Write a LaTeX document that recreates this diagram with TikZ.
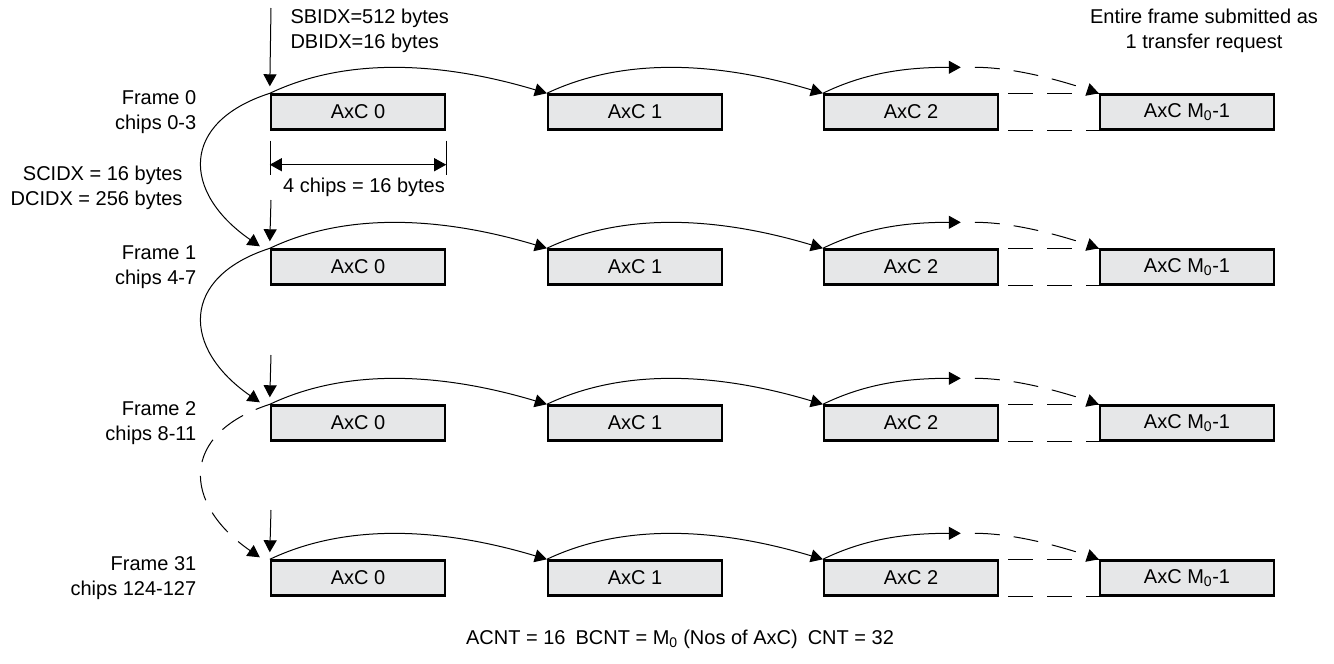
\documentclass[tikz,border=0pt]{standalone}
\usepackage{fontspec}
\setmainfont{Liberation Sans}
\usetikzlibrary{arrows.meta,positioning,calc}
\definecolor{bx}{HTML}{E6E7E8}
\tikzset{
  axc/.style={draw, line width=2.4pt, fill=bx, minimum width=174pt, minimum height=35pt, inner sep=0pt},
  hop/.style={-{Triangle[length=12pt,width=13pt]}, line width=1pt},
  gap/.style={line width=1pt, dash pattern=on 25pt off 14pt},
  lbl/.style={align=right},
}

\begin{document}
\begin{tikzpicture}[x=1pt,y=-1pt,font=\fontsize{20}{25}\selectfont]
  \useasboundingbox (0,0) rectangle (1334,664);
  % AxC blocks of the four frames
  \foreach \r/\yy in {0/112,1/267,2/423,3/578} {
    \node[axc] (b\r0) at (358,\yy) {AxC 0};
    \node[axc] (b\r1) at (635,\yy) {AxC 1};
    \node[axc] (b\r2) at (911,\yy) {AxC 2};
    \node[axc] (b\r3) at (1187,\yy) {AxC M\textsubscript{0}-1};
  }
  % links inside a frame
  \foreach \r in {0,...,3} {
    \draw[hop] (b\r0.north west) .. controls +(80,-38) and +(-100,-30) .. (b\r1.north west);
    \draw[hop] (b\r1.north west) .. controls +(80,-38) and +(-100,-30) .. (b\r2.north west);
    \coordinate (m\r) at ($(b\r2.north west)+(138,-26)$);
    \draw[hop] (b\r2.north west) .. controls +(45,-22) and +(-50,0) .. (m\r);
    \draw[hop,gap,shorten <=14pt] (m\r) .. controls +(50,0) and +(-45,-15) .. (b\r3.north west);
    \draw[gap,dash phase=30pt] (b\r2.north east) -- (b\r3.north west);
    \draw[gap,dash phase=30pt] (b\r2.south east) -- (b\r3.south west);
    \coordinate (t\r) at ($(b\r0.north west)+(0,-7)$);
  }
  % entry arrows
  \coordinate (s0) at (271,8);
  \coordinate (s1) at (271,200);
  \coordinate (s2) at (271,355);
  \coordinate (s3) at (271,510);
  \foreach \r in {0,...,3} \draw[hop] (s\r) -- (t\r);
  % frame to frame
  \draw[hop] (b00.north west) .. controls +(-90,29) and +(-78,-54) .. ($(b10.north west)+(-10,-2)$);
  \draw[hop] (b10.north west) .. controls +(-90,29) and +(-78,-54) .. ($(b20.north west)+(-10,-2)$);
  \draw[hop,gap,dash phase=10pt] (b20.north west) .. controls +(-90,29) and +(-78,-54) .. ($(b30.north west)+(-10,-2)$);
  % frame labels
  \node[lbl, left=70pt of b00] (f0) {Frame 0\\chips 0-3};
  \node[lbl, left=70pt of b10] (f1) {Frame 1\\chips 4-7};
  \node[lbl, left=70pt of b20] (f2) {Frame 2\\chips 8-11};
  \node[lbl, left=70pt of b30] (f3) {Frame 31\\chips 124-127};
  \node[lbl, anchor=east] (cidx) at (186,188) {SCIDX = 16 bytes\\DCIDX = 256 bytes};
  \node[align=left, anchor=west] (bidx) at (287,31) {SBIDX=512 bytes\\DBIDX=16 bytes};
  \node[align=center] (req) at (1204,31) {Entire frame submitted as\\1 transfer request};
  % width of one AxC
  \coordinate (d1) at ($(b00.south west)+(0,34)$);
  \coordinate (d2) at ($(b00.south east)+(0,34)$);
  \draw ($(b00.south west)+(0,10)$) -- ++(0,34);
  \draw ($(b00.south east)+(0,10)$) -- ++(0,34);
  \draw[{Triangle[length=12pt,width=13pt]}-{Triangle[length=12pt,width=13pt]}, line width=1pt] (d1) -- (d2);
  \node (dim) at (364,187) {4 chips = 16 bytes};
  \node (cnt) at (680,639) {ACNT = 16\enspace BCNT = M\textsubscript{0} (Nos of AxC)\enspace CNT = 32};
\end{tikzpicture}
\end{document}
